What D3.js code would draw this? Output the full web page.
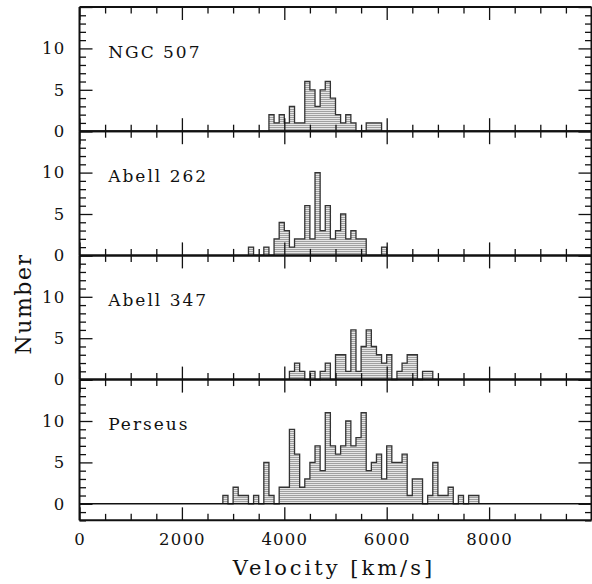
<!DOCTYPE html>
<html>
<head>
<meta charset="utf-8">
<script src="https://cdn.jsdelivr.net/npm/d3@7/dist/d3.min.js"></script>
<style>
  body { margin: 0; background: #fff; }
  text { font-family: 'DejaVu Serif', serif; fill: #111; }
</style>
</head>
<body>
<div id="chart"></div>
<script>
// ---- data (counts per 100 km/s bin) ----
const clusters = ['NGC 507', 'Abell 262', 'Abell 347', 'Perseus'];
const binWidth = 100;
const binStarts = [3700, 3300, 4100, 2800];

const ngc507Counts = [2, 1, 2, 1, 3, 1, 1, 6, 5, 3, 5, 6, 4, 2, 1, 2, 1, 0, 0, 1, 1, 1];
const abell262Counts = [1, 0, 0, 1, 0, 2, 4, 3, 1, 2, 2, 6, 2, 10, 3, 6, 2, 3, 5, 2, 3, 2, 2, 0, 0, 0, 1];
const abell347Counts = [1, 2, 1, 0, 1, 0, 1, 2, 0, 3, 3, 1, 6, 1, 4, 6, 4, 3, 2, 3, 0, 1, 2, 3, 3, 0, 1, 1];
const perseusCounts = [1, 0, 2, 1, 1, 0, 1, 0, 5, 1, 0, 2, 2, 9, 6, 2, 3, 5, 7, 4, 11, 7, 6, 7, 10, 7, 8, 11,
                       4, 5, 6, 3, 7, 5, 5, 6, 1, 3, 3, 0, 1, 5, 1, 1, 2, 0, 1, 0, 1, 1];
const allCounts = [ngc507Counts, abell262Counts, abell347Counts, perseusCounts];

const xMajorTicks = [0, 2000, 4000, 6000, 8000];
const xMinorStep = 500;
const yLabelTicks = [0, 5, 10];

// ---- layout ----
const W = 592, H = 584;
const plotL = 79.5, plotR = 591.5, plotT = 7, panelH = 124.2;
const majorLen = 13, minorLen = 6.5;

const svg = d3.select('#chart').append('svg')
  .attr('width', W).attr('height', H);

// horizontal hatch fill (wide tile so no vertical seams)
const pat = svg.append('defs').append('pattern')
  .attr('id', 'hatch').attr('patternUnits', 'userSpaceOnUse')
  .attr('width', W).attr('height', 2);
pat.append('rect').attr('width', W).attr('height', 2).attr('fill', '#e6e6e6');
pat.append('rect').attr('y', 1).attr('width', W).attr('height', 1).attr('fill', '#a0a0a0');

const x = d3.scaleLinear().domain([0, 10000]).range([plotL, plotR]);
const xMinor = d3.range(0, 10001, xMinorStep).filter(v => v % 2000 !== 0);

clusters.forEach((name, i) => {
  const y = d3.scaleLinear().domain([0, 15]).range([plotT + panelH * (i + 1), plotT + panelH * i]);
  const yMin = i === 3 ? -2 : 0;
  const last = i === 3;
  const g = svg.append('g').attr('class', 'panel');

  // bins -> step outline points
  const start = binStarts[i];
  const bins = allCounts[i].map((n, j) => ({ x0: start + j * binWidth, n }));
  const end = start + bins.length * binWidth;
  const pts = [{ v: start, n: 0 }].concat(bins.map(b => ({ v: b.x0, n: b.n })), [{ v: end, n: 0 }]);

  // hatched fill as one area (avoids seams between bins)
  g.append('path')
    .attr('d', d3.area().x(d => x(d.v)).y0(y(0)).y1(d => y(d.n)).curve(d3.curveStepAfter)(pts))
    .attr('fill', 'url(#hatch)');

  g.append('path')
    .attr('d', d3.line().x(d => x(d.v)).y(d => y(d.n)).curve(d3.curveStepAfter)(pts))
    .attr('fill', 'none')
    .attr('stroke', '#333')
    .attr('stroke-width', 1.3);

  // zero line for last panel (others coincide with panel border)
  if (last) {
    g.append('line')
      .attr('x1', plotL).attr('x2', plotR)
      .attr('y1', y(0)).attr('y2', y(0))
      .attr('stroke', '#111').attr('stroke-width', 1.5);
  }

  // x ticks: bottom edge (pointing up) and top edge (pointing down)
  const yBot = y(yMin), yTop = y(15);
  const noDomain = sel => sel.select('.domain').remove();
  const styleTicks = sel => sel.selectAll('.tick line').attr('stroke', '#111').attr('stroke-width', 1.3);

  g.append('g').attr('transform', `translate(0,${yBot})`)
    .call(d3.axisBottom(x).tickValues(xMajorTicks).tickSize(-majorLen).tickPadding(13)
      .tickFormat(last ? d3.format('d') : ''))
    .call(noDomain).call(styleTicks)
    .call(sel => sel.selectAll('text').attr('font-size', 16.5).attr('letter-spacing', 1.2)
      .attr('font-family', 'DejaVu Serif').attr('fill', '#111'));
  g.append('g').attr('transform', `translate(0,${yBot})`)
    .call(d3.axisBottom(x).tickValues(xMinor).tickSize(-minorLen).tickFormat(''))
    .call(noDomain).call(styleTicks);
  g.append('g').attr('transform', `translate(0,${yTop})`)
    .call(d3.axisTop(x).tickValues(xMajorTicks).tickSize(-majorLen).tickFormat(''))
    .call(noDomain).call(styleTicks);
  g.append('g').attr('transform', `translate(0,${yTop})`)
    .call(d3.axisTop(x).tickValues(xMinor).tickSize(-minorLen).tickFormat(''))
    .call(noDomain).call(styleTicks);

  // y ticks: left (with labels) and right
  const yMajor = d3.range(yMin, 16).filter(v => v % 5 === 0);
  const yMinorV = d3.range(yMin, 16).filter(v => v % 5 !== 0);
  g.append('g').attr('transform', `translate(${plotL},0)`)
    .call(d3.axisLeft(y).tickValues(yMajor).tickSize(-majorLen).tickPadding(14)
      .tickFormat(v => yLabelTicks.includes(v) ? v : ''))
    .call(noDomain).call(styleTicks)
    .call(sel => sel.selectAll('text').attr('font-size', 16.5).attr('letter-spacing', 1.2)
      .attr('font-family', 'DejaVu Serif').attr('fill', '#111'));
  g.append('g').attr('transform', `translate(${plotL},0)`)
    .call(d3.axisLeft(y).tickValues(yMinorV).tickSize(-minorLen).tickFormat(''))
    .call(noDomain).call(styleTicks);
  g.append('g').attr('transform', `translate(${plotR},0)`)
    .call(d3.axisRight(y).tickValues(yMajor).tickSize(-majorLen).tickFormat(''))
    .call(noDomain).call(styleTicks);
  g.append('g').attr('transform', `translate(${plotR},0)`)
    .call(d3.axisRight(y).tickValues(yMinorV).tickSize(-minorLen).tickFormat(''))
    .call(noDomain).call(styleTicks);

  // panel border lines
  g.append('line').attr('x1', plotL).attr('x2', plotR).attr('y1', yBot).attr('y2', yBot)
    .attr('stroke', '#111').attr('stroke-width', 2);
  g.append('line').attr('x1', plotL).attr('x2', plotR).attr('y1', yTop).attr('y2', yTop)
    .attr('stroke', '#111').attr('stroke-width', 2);
  g.append('line').attr('x1', plotL).attr('x2', plotL).attr('y1', yBot).attr('y2', yTop)
    .attr('stroke', '#111').attr('stroke-width', 2);
  g.append('line').attr('x1', plotR).attr('x2', plotR).attr('y1', yBot).attr('y2', yTop)
    .attr('stroke', '#111').attr('stroke-width', 2);

  // cluster name
  g.append('text')
    .attr('x', x(560)).attr('y', y(8.9))
    .attr('font-size', 17).attr('letter-spacing', 2)
    .text(name);
});

// axis titles
svg.append('text')
  .attr('x', 334).attr('y', 575)
  .attr('text-anchor', 'middle')
  .attr('font-size', 21).attr('letter-spacing', 3)
  .text('Velocity [km/s]');

svg.append('text')
  .attr('transform', 'translate(31,304) rotate(-90)')
  .attr('text-anchor', 'middle')
  .attr('font-size', 22).attr('letter-spacing', 1.5)
  .text('Number');
</script>
</body>
</html>
